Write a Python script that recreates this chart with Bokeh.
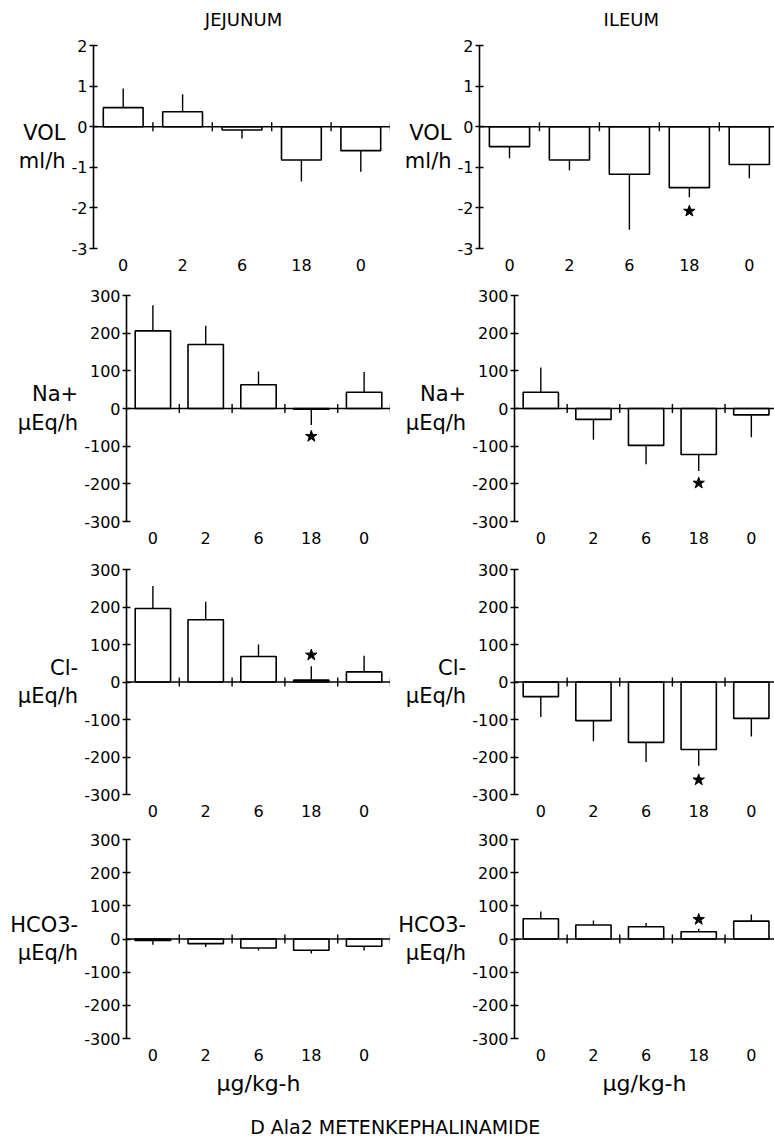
import numpy as np
from bokeh.plotting import figure
from bokeh.layouts import column, row
from bokeh.models import Range1d, FixedTicker, Span, Label
from bokeh.embed import file_html
from bokeh.resources import INLINE

# ---------------- data ----------------
doses = ["0", "2", "6", "18", "0"]
segments = ["JEJUNUM", "ILEUM"]
vol_ticks = [-3, -2, -1, 0, 1, 2]
vol_tick_labels = ["-3", "-2", "-1", "0", "1", "2"]
ion_ticks = [-300, -200, -100, 0, 100, 200, 300]
ion_tick_labels = ["-300", "-200", "-100", "0", "100", "200", "300"]

jej_vol = [0.47, 0.37, -0.08, -0.82, -0.59]
jej_vol_err = [0.47, 0.43, 0.21, 0.53, 0.52]
ile_vol = [-0.49, -0.82, -1.17, -1.50, -0.93]
ile_vol_err = [0.29, 0.25, 1.37, 0.24, 0.34]

jej_na = [206, 170, 63, -2, 43]
jej_na_err = [68, 50, 35, 42, 54]
ile_na = [43, -29, -98, -122, -17]
ile_na_err = [66, 54, 50, 44, 59]

jej_cl = [196, 166, 68, 5, 27]
jej_cl_err = [60, 48, 32, 37, 43]
ile_cl = [-39, -103, -161, -180, -97]
ile_cl_err = [54, 55, 52, 43, 48]

jej_hco3 = [-4, -14, -27, -34, -22]
jej_hco3_err = [13, 10, 8, 10, 13]
ile_hco3 = [61, 42, 37, 22, 54]
ile_hco3_err = [22, 14, 11, 9, 20]

# significance stars: (dose index, y value)
jej_vol_star = []
ile_vol_star = [(3, -2.08)]
jej_na_star = [(3, -74)]
ile_na_star = [(3, -198)]
jej_cl_star = [(3, 72)]
ile_cl_star = [(3, -261)]
jej_hco3_star = []
ile_hco3_star = [(3, 59)]

FONT = "DejaVu Sans"
INK = "black"


def panel(width, height, mleft, mtop, mbottom, xend, yr, yticks, ylabels,
          ytitle, vals, errs, stars, xtitle=None):
    p = figure(width=width, height=height, x_range=Range1d(0, xend),
               y_range=Range1d(yr[0], yr[1]), output_backend="svg",
               toolbar_location=None, min_border_left=mleft,
               min_border_right=0, min_border_top=mtop,
               min_border_bottom=mbottom)
    p.outline_line_color = None
    p.background_fill_color = "white"
    p.border_fill_color = "white"
    p.xgrid.visible = False
    p.ygrid.visible = False

    n = len(vals)
    xs = [i + 0.5 for i in range(n)]

    # y axis
    ya = p.yaxis[0]
    ya.ticker = FixedTicker(ticks=yticks)
    ya.major_label_overrides = {t: l for t, l in zip(yticks, ylabels)}
    ya.minor_tick_line_color = None
    ya.major_tick_in = 4
    ya.major_tick_out = 4
    ya.axis_line_width = 1.6
    ya.axis_line_color = INK
    ya.major_tick_line_color = INK
    ya.major_tick_line_width = 1.4
    ya.major_label_text_font = FONT
    ya.major_label_text_font_size = "16px"
    ya.major_label_text_color = INK
    ya.major_label_standoff = 2
    ya.axis_label = ytitle
    ya.axis_label_orientation = "horizontal"
    ya.axis_label_text_font = FONT
    ya.axis_label_text_font_size = "21px"
    ya.axis_label_text_font_style = "normal"
    ya.axis_label_text_color = INK
    ya.axis_label_standoff = 3
    ya.axis_label_text_align = "center"

    # x axis (dose labels only)
    xa = p.xaxis[0]
    xa.ticker = FixedTicker(ticks=xs)
    xa.major_label_overrides = {x: d for x, d in zip(xs, doses)}
    xa.axis_line_color = None
    xa.major_tick_line_color = None
    xa.minor_tick_line_color = None
    xa.major_tick_in = 0
    xa.major_tick_out = 0
    xa.major_label_standoff = 10
    xa.major_label_text_font = FONT
    xa.major_label_text_font_size = "16px"
    xa.major_label_text_color = INK
    if xtitle:
        xa.axis_label = xtitle
        xa.axis_label_text_font = FONT
        xa.axis_label_text_font_size = "22px"
        xa.axis_label_text_font_style = "normal"
        xa.axis_label_text_color = INK
        xa.axis_label_standoff = 7

    # bars
    p.vbar(x=xs, bottom=0, top=vals, width=0.67, fill_color="white",
           line_color=INK, line_width=1.6)
    # one-sided error bars
    ends = [v + (e if v >= 0 else -e) for v, e in zip(vals, errs)]
    p.segment(x0=xs, y0=vals, x1=xs, y1=ends, line_color=INK,
              line_width=1.4)
    # zero line with category dividers
    p.add_layout(Span(location=0, dimension="width", line_color=INK,
                      line_width=1.6))
    p.scatter(x=[i + 1 for i in range(n)], y=[0] * n, marker="dash",
              angle=np.pi / 2, size=9, line_color=INK, line_width=1.4)
    # stars
    if stars:
        p.scatter(x=[xs[i] for i, _ in stars], y=[s for _, s in stars],
                  marker="star", size=12, fill_color=INK, line_color=INK)
    return p


def text_strip(height, items, size):
    s = figure(width=LW + RW, height=height, x_range=Range1d(0, 1),
               y_range=Range1d(0, 1), output_backend="svg",
               toolbar_location=None, min_border=0)
    s.axis.visible = False
    s.grid.visible = False
    s.outline_line_color = None
    for x, y, t in items:
        s.add_layout(Label(x=x, y=y, text=t, text_align="center",
                           text_baseline="middle", text_font=FONT,
                           text_font_size=size, text_color=INK))
    return s


LW, RW = 390, 384
# rows: (height, mtop, mbottom)
r1 = (255, 15, 37)
r2 = (274, 10, 38)
r3 = (270, 10, 35)
r4 = (273, 10, 64)

header = text_strip(30, [(0.314, 0.37, segments[0]), (0.815, 0.37, segments[1])], "18px")

p11 = panel(LW, r1[0], 93, r1[1], r1[2], 5, (-3, 2), vol_ticks, vol_tick_labels,
            "VOL\nml/h", jej_vol, jej_vol_err, jej_vol_star)
p12 = panel(RW, r1[0], 89, r1[1], r1[2], 4.92, (-3, 2), vol_ticks, vol_tick_labels,
            "VOL\nml/h", ile_vol, ile_vol_err, ile_vol_star)
p21 = panel(LW, r2[0], 126, r2[1], r2[2], 5, (-300, 300), ion_ticks, ion_tick_labels,
            "Na+\nµEq/h", jej_na, jej_na_err, jej_na_star)
p22 = panel(RW, r2[0], 124, r2[1], r2[2], 4.94, (-300, 300), ion_ticks, ion_tick_labels,
            "Na+\nµEq/h", ile_na, ile_na_err, ile_na_star)
p31 = panel(LW, r3[0], 126, r3[1], r3[2], 5, (-300, 300), ion_ticks, ion_tick_labels,
            "Cl-\nµEq/h", jej_cl, jej_cl_err, jej_cl_star)
p32 = panel(RW, r3[0], 124, r3[1], r3[2], 4.94, (-300, 300), ion_ticks, ion_tick_labels,
            "Cl-\nµEq/h", ile_cl, ile_cl_err, ile_cl_star)
p41 = panel(LW, r4[0], 126, r4[1], r4[2], 5, (-300, 300), ion_ticks, ion_tick_labels,
            "HCO3-\nµEq/h", jej_hco3, jej_hco3_err, jej_hco3_star, xtitle="µg/kg-h")
p42 = panel(RW, r4[0], 124, r4[1], r4[2], 4.94, (-300, 300), ion_ticks, ion_tick_labels,
            "HCO3-\nµEq/h", ile_hco3, ile_hco3_err, ile_hco3_star, xtitle="µg/kg-h")

footer = text_strip(39, [(0.51, 0.36, "D Ala2 METENKEPHALINAMIDE")], "19px")

layout = column(header, row(p11, p12), row(p21, p22), row(p31, p32),
                row(p41, p42), footer)

open("out.html", "w").write(file_html(layout, INLINE))
